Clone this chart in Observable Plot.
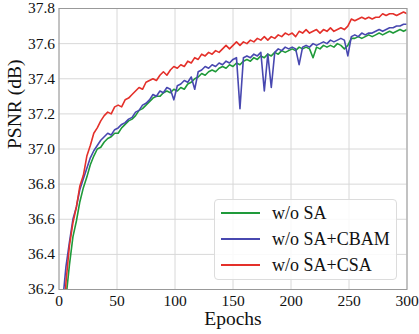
<!DOCTYPE html>
<html>
<head>
<meta charset="utf-8">
<script src="https://cdn.jsdelivr.net/npm/d3@7"></script>
<script src="https://cdn.jsdelivr.net/npm/@observablehq/plot@0.6"></script>
<style>
  body { margin: 0; background: white; }
  #wrap { position: relative; width: 419px; height: 334px; font-family: "Liberation Serif", "Times New Roman", serif; }
  #legend { position: absolute; left: 214px; top: 199px; width: 183px; height: 81px; box-sizing: border-box;
    border: 1px solid #dcdcdc; border-radius: 4px; background: rgba(255,255,255,0.85); }
  .row { position: absolute; left: 0; height: 20px; font-size: 18px; color: #111; }
  .sw { position: absolute; left: 6px; width: 39px; height: 2px; }
  .lab { position: absolute; left: 57px; white-space: nowrap; line-height: 20px; top: -10px; }
</style>
</head>
<body>
<div id="wrap"></div>
<script>
const epochs = [3,6,9,12,15,18,21,24,27,30,33,36,39,42,45,48,51,54,57,60,63,66,69,72,75,78,81,84,87,90,93,96,99,102,105,108,111,114,117,120,123,126,129,132,135,138,141,144,147,150,153,156,159,162,165,168,171,174,177,180,183,186,189,192,195,198,201,204,207,210,213,216,219,222,225,228,231,234,237,240,243,246,249,252,255,258,261,264,267,270,273,276,279,282,285,288,291,294,297,300];

const seriesNames = ["w/o SA", "w/o SA+CBAM", "w/o SA+CSA"];
const seriesColors = ["#1f9a3a", "#4848b0", "#e4302a"];

const woSA = [35.90,36.15,36.34,36.50,36.59,36.70,36.78,36.84,36.91,36.96,37.00,37.01,37.04,37.06,37.07,37.09,37.09,37.12,37.14,37.16,37.17,37.19,37.22,37.23,37.25,37.27,37.29,37.30,37.30,37.32,37.33,37.32,37.34,37.33,37.35,37.34,37.37,37.38,37.40,37.41,37.43,37.42,37.44,37.45,37.44,37.46,37.47,37.46,37.48,37.47,37.49,37.48,37.50,37.51,37.50,37.52,37.51,37.53,37.52,37.54,37.53,37.55,37.54,37.56,37.55,37.56,37.57,37.56,37.58,37.57,37.58,37.57,37.52,37.58,37.57,37.59,37.58,37.59,37.58,37.60,37.59,37.57,37.59,37.63,37.63,37.64,37.63,37.64,37.65,37.64,37.65,37.66,37.65,37.66,37.67,37.66,37.67,37.68,37.67,37.68];

const woSA_CBAM = [36.12,36.33,36.47,36.60,36.67,36.77,36.83,36.89,36.95,36.99,37.02,37.05,37.07,37.09,37.08,37.11,37.12,37.14,37.15,37.17,37.18,37.21,37.22,37.25,37.26,37.28,37.31,37.30,37.33,37.32,37.35,37.34,37.28,37.36,37.37,37.39,37.38,37.41,37.34,37.44,37.45,37.47,37.46,37.48,37.47,37.49,37.48,37.50,37.49,37.51,37.52,37.23,37.52,37.53,37.52,37.54,37.53,37.55,37.33,37.54,37.35,37.55,37.57,37.56,37.58,37.57,37.58,37.57,37.48,37.58,37.59,37.58,37.60,37.59,37.60,37.61,37.60,37.62,37.61,37.62,37.63,37.62,37.53,37.64,37.65,37.64,37.66,37.65,37.66,37.66,37.67,37.68,37.67,37.68,37.69,37.69,37.70,37.70,37.71,37.71];

const woSA_CSA = [35.90,36.24,36.45,36.58,36.67,36.79,36.85,36.96,37.02,37.09,37.12,37.16,37.19,37.21,37.20,37.24,37.25,37.24,37.28,37.29,37.31,37.33,37.35,37.34,37.38,37.39,37.40,37.39,37.42,37.44,37.42,37.45,37.47,37.46,37.48,37.47,37.50,37.49,37.52,37.51,37.54,37.53,37.55,37.54,37.56,37.55,37.57,37.59,37.57,37.59,37.61,37.59,37.61,37.60,37.62,37.61,37.63,37.62,37.64,37.62,37.64,37.63,37.65,37.64,37.66,37.65,37.66,37.64,37.67,37.66,37.68,37.66,37.67,37.68,37.66,37.68,37.67,37.69,37.67,37.68,37.69,37.68,37.70,37.74,37.73,37.74,37.75,37.74,37.75,37.74,37.75,37.75,37.77,37.76,37.77,37.77,37.76,37.77,37.78,37.77];

const xTicks = [0, 50, 100, 150, 200, 250, 300];
const yTicks = [36.2, 36.4, 36.6, 36.8, 37.0, 37.2, 37.4, 37.6, 37.8];

const allSeries = [woSA, woSA_CBAM, woSA_CSA];
const lineMarks = allSeries.map((vals, k) =>
  Plot.line(epochs.map((e, i) => ({epoch: e, psnr: vals[i]})),
    {x: "epoch", y: "psnr", stroke: seriesColors[k], strokeWidth: 1.6, clip: true}));

const chart = Plot.plot({
  width: 419,
  height: 334,
  marginLeft: 58.5,
  marginRight: 12.5,
  marginTop: 8,
  marginBottom: 45,
  style: {fontFamily: "'Liberation Serif', 'Times New Roman', serif", fontSize: "15.5px", color: "#111", background: "white"},
  x: {domain: [0, 300]},
  y: {domain: [36.2, 37.8]},
  marks: [
    Plot.gridX(xTicks, {stroke: "#d8d8d8", strokeOpacity: 1}),
    Plot.gridY(yTicks, {stroke: "#d8d8d8", strokeOpacity: 1}),
    ...lineMarks,
    Plot.frame({stroke: "#999"}),
    Plot.axisX(xTicks, {tickSize: 0, tickPadding: 5, label: null, fontSize: 15.5, tickFormat: d => String(d)}),
    Plot.axisY(yTicks, {tickSize: 0, tickPadding: 4, label: null, fontSize: 15.5, tickFormat: d3.format(".1f")}),
    Plot.text(["Epochs"], {frameAnchor: "bottom", lineAnchor: "bottom", dy: 35, fontSize: 19.5, fill: "#111"}),
    Plot.text(["PSNR (dB)"], {frameAnchor: "left", dx: -44, rotate: -90, fontSize: 19.5, fill: "#111"})
  ]
});

const wrap = document.getElementById("wrap");
wrap.appendChild(chart);

const legend = document.createElement("div");
legend.id = "legend";
const rowTops = [13, 39, 65];
seriesNames.forEach((name, k) => {
  const row = document.createElement("div");
  row.className = "row";
  row.style.top = rowTops[k] + "px";
  const sw = document.createElement("div");
  sw.className = "sw";
  sw.style.background = seriesColors[k];
  sw.style.top = "-1px";
  const lab = document.createElement("div");
  lab.className = "lab";
  lab.textContent = name;
  row.appendChild(sw);
  row.appendChild(lab);
  legend.appendChild(row);
});
wrap.appendChild(legend);
</script>
</body>
</html>
